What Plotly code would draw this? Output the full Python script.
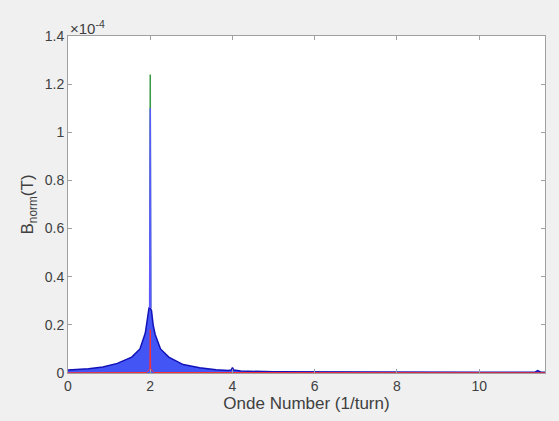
import plotly.graph_objects as go

# values in units of 1e-4 T
blue_x = [0, 0.25, 0.5, 0.85, 1.2, 1.55, 1.75, 1.88, 1.93, 1.97, 2.0,
          2.03, 2.07, 2.12, 2.25, 2.45, 2.8, 3.2, 3.6, 3.9, 3.97, 4.0, 4.03,
          4.2, 5, 6, 8, 10, 11.35, 11.42, 11.5, 11.6]
blue_y = [0.012, 0.014, 0.018, 0.025, 0.04, 0.066, 0.1, 0.166, 0.22, 0.27, 0.27,
          0.26, 0.2, 0.16, 0.1, 0.066, 0.035, 0.022, 0.014, 0.01, 0.013, 0.022, 0.012,
          0.008, 0.005, 0.004, 0.003, 0.003, 0.003, 0.01, 0.003, 0.003]
blue_spike_x = [1.985, 2.0, 2.015]
blue_spike_y = [0.27, 1.10, 0.27]
green_x = [1.99, 2.0, 2.01]
green_y = [0.27, 1.24, 0.27]
red_x = [0, 1.9, 1.95, 1.99, 2.0, 2.01, 2.05, 2.1, 11.6]
red_y = [0.001, 0.002, 0.008, 0.02, 0.18, 0.02, 0.008, 0.002, 0.001]

x_ticks = [0, 2, 4, 6, 8, 10]
y_ticks = [0, 0.2, 0.4, 0.6, 0.8, 1.0, 1.2, 1.4]
y_tick_text = ["0", "0.2", "0.4", "0.6", "0.8", "1", "1.2", "1.4"]

FONT = "Liberation Sans, Arial"
fig = go.Figure()
fig.add_trace(go.Scatter(x=green_x, y=green_y, mode="lines",
                         line=dict(color="#3a9a45", width=1.5), hoverinfo="skip"))
fig.add_trace(go.Scatter(x=blue_x, y=blue_y, mode="lines", fill="tozeroy",
                         fillcolor="rgba(35,55,245,0.85)",
                         line=dict(color="#1212b8", width=1.5), hoverinfo="skip"))
fig.add_trace(go.Scatter(x=blue_spike_x, y=blue_spike_y, mode="lines",
                         line=dict(color="#5a5aff", width=1.5), hoverinfo="skip"))
fig.add_trace(go.Scatter(x=red_x, y=red_y, mode="lines",
                         line=dict(color="#ff3030", width=1), hoverinfo="skip"))

axis_common = dict(showgrid=False, zeroline=False, showline=True, linecolor="#a0a0a0",
                   linewidth=1, mirror="ticks", ticks="inside", ticklen=4,
                   tickcolor="#a0a0a0", automargin=False,
                   tickfont=dict(family=FONT, size=14, color="#404040"))

fig.update_layout(
    width=559, height=421,
    paper_bgcolor="#f0f0f0", plot_bgcolor="white",
    margin=dict(l=68, r=14, t=36, b=48),
    showlegend=False,
    xaxis=dict(range=[0, 11.6], tickvals=x_ticks, ticktext=[str(v) for v in x_ticks],
               title=dict(text="Onde Number (1/turn)", standoff=4,
                          font=dict(family=FONT, size=17, color="#404040")),
               **axis_common),
    yaxis=dict(range=[0, 1.4], tickvals=y_ticks, ticktext=y_tick_text,
               title=dict(text="B<sub>norm</sub>(T)", standoff=6,
                          font=dict(family=FONT, size=17, color="#404040")),
               **axis_common),
    annotations=[dict(text="×10<sup>-4</sup>", xref="paper", yref="paper",
                      x=0, y=1.0, xanchor="left", yanchor="bottom", showarrow=False,
                      yshift=-3,
                      font=dict(family=FONT, size=15, color="#404040"))],
)
fig.write_html("out.html", config={"displayModeBar": False},
               post_script="document.body.style.margin='0';"
                           "document.body.style.background='#f0f0f0';")
